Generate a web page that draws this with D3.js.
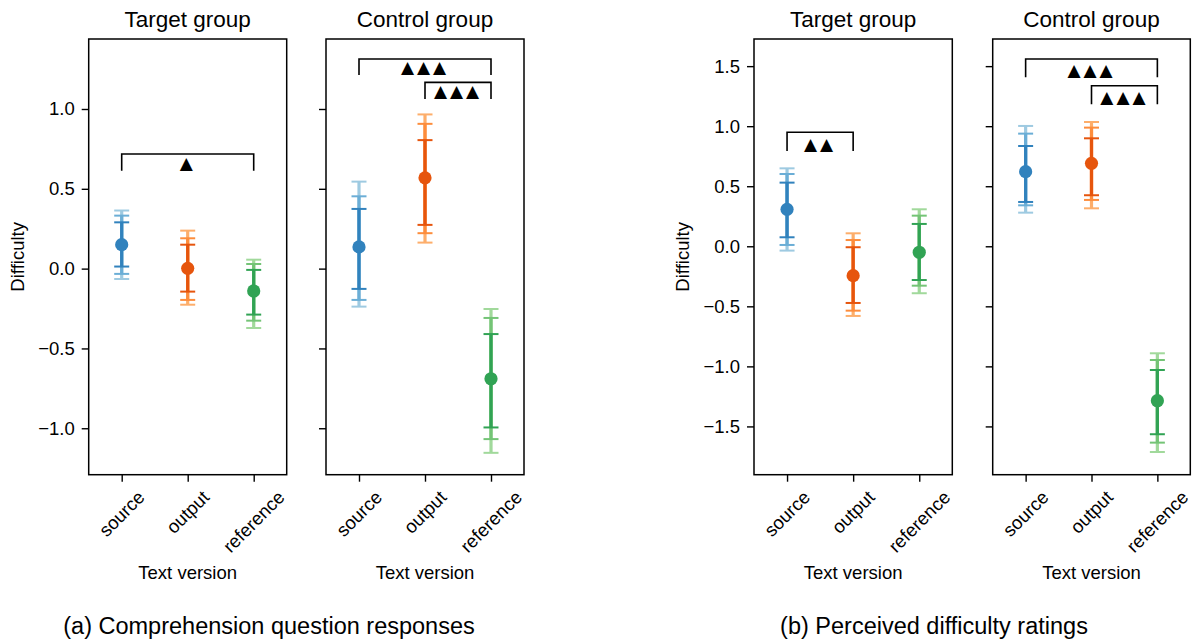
<!DOCTYPE html>
<html>
<head>
<meta charset="utf-8">
<script src="https://cdn.jsdelivr.net/npm/d3@7"></script>
<style>
  html, body { margin: 0; padding: 0; background: #fff; }
  svg { display: block; }
  text { font-family: "Liberation Sans", Arial, Helvetica, sans-serif; fill: #000; }
</style>
</head>
<body>
<svg id="chart" width="1192" height="639"></svg>
<script>
// ---------------- DATA ----------------
const categories = ["source", "output", "reference"];
const groups = ["Target group", "Control group"];
const yTicksComp = [-1.0, -0.5, 0.0, 0.5, 1.0];
const yTicksDiff = [-1.5, -1.0, -0.5, 0.0, 0.5, 1.0, 1.5];
const captionComp = "(a) Comprehension question responses";
const captionDiff = "(b) Perceived difficulty ratings";
const yLabel = "Difficulty";
const xLabel = "Text version";

// (a) Comprehension question responses: [group][category]
const compMean   = [[0.150, 0.002, -0.140], [0.136, 0.569, -0.690]];
const compInner  = [[[0.013, 0.290], [-0.144, 0.150], [-0.288, -0.008]],
                    [[-0.127, 0.374], [0.274, 0.805], [-0.995, -0.410]]];
const compMiddle = [[[-0.033, 0.332], [-0.196, 0.190], [-0.326, 0.029]],
                    [[-0.196, 0.453], [0.222, 0.907], [-1.068, -0.309]]];
const compOuter  = [[[-0.065, 0.364], [-0.226, 0.238], [-0.372, 0.056]],
                    [[-0.238, 0.545], [0.163, 0.966], [-1.154, -0.253]]];
const compBrackets = [
  [{from: 0, to: 2, top: 0.718, bottom: 0.613, marks: "▲"}],
  [{from: 0, to: 2, top: 1.313, bottom: 1.213, marks: "▲▲▲"},
   {from: 1, to: 2, top: 1.167, bottom: 1.063, marks: "▲▲▲"}]
];

// (b) Perceived difficulty ratings: [group][category]
const diffMean   = [[0.308, -0.245, -0.050], [0.621, 0.691, -1.286]];
const diffInner  = [[[0.075, 0.530], [-0.472, -0.008], [-0.281, 0.186]],
                    [[0.369, 0.835], [0.425, 0.899], [-1.565, -1.030]]];
const diffMiddle = [[[0.011, 0.602], [-0.536, 0.052], [-0.328, 0.255]],
                    [[0.341, 0.938], [0.386, 0.988], [-1.635, -0.947]]];
const diffOuter  = [[[-0.036, 0.649], [-0.580, 0.108], [-0.391, 0.308]],
                    [[0.280, 1.002], [0.316, 1.035], [-1.713, -0.891]]];
const diffBrackets = [
  [{from: 0, to: 1, top: 0.949, bottom: 0.793, marks: "▲▲"}],
  [{from: 0, to: 2, top: 1.559, bottom: 1.407, marks: "▲▲▲"},
   {from: 1, to: 2, top: 1.337, bottom: 1.182, marks: "▲▲▲"}]
];

// tab20c shades per category: [dark, medium, light]
const palette = [
  ["#3182bd", "#6baed6", "#9ecae1"],
  ["#e6550d", "#fd8d3c", "#fdae6b"],
  ["#31a354", "#74c476", "#a1d99b"]
];

// ---------------- LAYOUT ----------------
const svg = d3.select("#chart");
const fmt = v => d3.format(".1f")(v).replace("-", "\u2212");
const plotTop = 39, plotBottom = 474.7;

const charts = [
  {
    panels: [[88.7, 286.7], [326, 524]],
    domain: [-1.291, 1.4385],
    ticks: yTicksComp,
    mean: compMean, inner: compInner, middle: compMiddle, outer: compOuter,
    brackets: compBrackets,
    caption: captionComp, captionX: 269,
    yLabelX: 24
  },
  {
    panels: [[754, 952.3], [992.7, 1190.3]],
    domain: [-1.902, 1.726],
    ticks: yTicksDiff,
    mean: diffMean, inner: diffInner, middle: diffMiddle, outer: diffOuter,
    brackets: diffBrackets,
    caption: captionDiff, captionX: 934,
    yLabelX: 689
  }
];

charts.forEach(ch => {
  const y = d3.scaleLinear().domain(ch.domain).range([plotBottom, plotTop]);

  ch.panels.forEach((px, gi) => {
    const x = d3.scalePoint().domain(categories).range(px).padding(0.5);
    const g = svg.append("g");

    // title
    g.append("text")
      .attr("x", (px[0] + px[1]) / 2).attr("y", 27.3)
      .attr("text-anchor", "middle")
      .style("font-size", "22.5px")
      .text(groups[gi]);

    // y axis
    const yAxis = d3.axisLeft(y).tickValues(ch.ticks).tickSize(7).tickPadding(7)
      .tickFormat(gi === 0 ? fmt : () => "");
    const ya = g.append("g").attr("transform", `translate(${px[0]},0)`).call(yAxis);
    ya.select(".domain").remove();
    ya.selectAll(".tick line").attr("stroke", "#000").attr("stroke-width", 1.4);
    ya.selectAll(".tick text").style("font-size", "18.5px")
      .style("font-family", '"Liberation Sans", Arial, sans-serif').attr("fill", "#000");

    // x axis
    const xAxis = d3.axisBottom(x).tickSize(7).tickFormat("");
    const xa = g.append("g").attr("transform", `translate(0,${plotBottom})`).call(xAxis);
    xa.select(".domain").remove();
    xa.selectAll(".tick line").attr("stroke", "#000").attr("stroke-width", 1.4);

    // rotated x tick labels (rotated bbox centered under tick)
    const fs = 18.5;
    categories.forEach(c => {
      const t = g.append("text")
        .style("font-size", fs + "px")
        .attr("text-anchor", "middle")
        .attr("dy", "0.35em")
        .text(c);
      const w = t.node().getComputedTextLength();
      const h = (w + fs * 1.1) * Math.SQRT1_2;
      const cx = x(c), cy = plotBottom + 7 + 5 + h / 2;
      t.attr("x", cx).attr("y", cy)
       .attr("transform", `rotate(-45,${cx},${cy})`);
    });

    // x label
    g.append("text")
      .attr("x", (px[0] + px[1]) / 2).attr("y", 579)
      .attr("text-anchor", "middle")
      .style("font-size", "18.5px")
      .text(xLabel);

    // error bars: outer, middle, inner
    const levels = [ch.outer[gi], ch.middle[gi], ch.inner[gi]];
    const shadeIdx = [2, 1, 0];
    const capHalf = 7.5;
    levels.forEach((lv, li) => {
      categories.forEach((c, ci) => {
        const col = palette[ci][shadeIdx[li]];
        const [lo, hi] = lv[ci];
        const cx = x(c);
        g.append("line")
          .attr("x1", cx).attr("x2", cx).attr("y1", y(lo)).attr("y2", y(hi))
          .attr("stroke", col).attr("stroke-width", 3.2);
        [lo, hi].forEach(v => {
          g.append("line")
            .attr("x1", cx - capHalf).attr("x2", cx + capHalf)
            .attr("y1", y(v)).attr("y2", y(v))
            .attr("stroke", col).attr("stroke-width", 2);
        });
      });
    });

    // mean points
    g.selectAll("circle.mean")
      .data(categories)
      .join("circle")
      .attr("class", "mean")
      .attr("cx", c => x(c))
      .attr("cy", (c, ci) => y(ch.mean[gi][ci]))
      .attr("r", 6.6)
      .attr("fill", (c, ci) => palette[ci][0]);

    // significance brackets
    ch.brackets[gi].forEach(b => {
      const x1 = x(categories[b.from]), x2 = x(categories[b.to]);
      const yt = y(b.top), yb = y(b.bottom);
      g.append("path")
        .attr("d", `M${x1},${yb}V${yt}H${x2}V${yb}`)
        .attr("fill", "none").attr("stroke", "#000").attr("stroke-width", 1.6);
      g.append("text")
        .attr("x", (x1 + x2) / 2).attr("y", yb - 1.5)
        .attr("text-anchor", "middle")
        .style("font-family", '"DejaVu Sans", sans-serif')
        .style("font-size", "17px")
        .style("letter-spacing", "3px")
        .text(b.marks);
    });

    // frame
    g.append("rect")
      .attr("x", px[0]).attr("y", plotTop)
      .attr("width", px[1] - px[0]).attr("height", plotBottom - plotTop)
      .attr("fill", "none").attr("stroke", "#000").attr("stroke-width", 1.5);
  });

  // y label
  svg.append("text")
    .attr("transform", `translate(${ch.yLabelX},${(plotTop + plotBottom) / 2}) rotate(-90)`)
    .attr("text-anchor", "middle")
    .style("font-size", "18.5px")
    .text(yLabel);

  // caption
  svg.append("text")
    .attr("x", ch.captionX).attr("y", 634)
    .attr("text-anchor", "middle")
    .style("font-size", "23.5px")
    .text(ch.caption);
});
</script>
</body>
</html>
